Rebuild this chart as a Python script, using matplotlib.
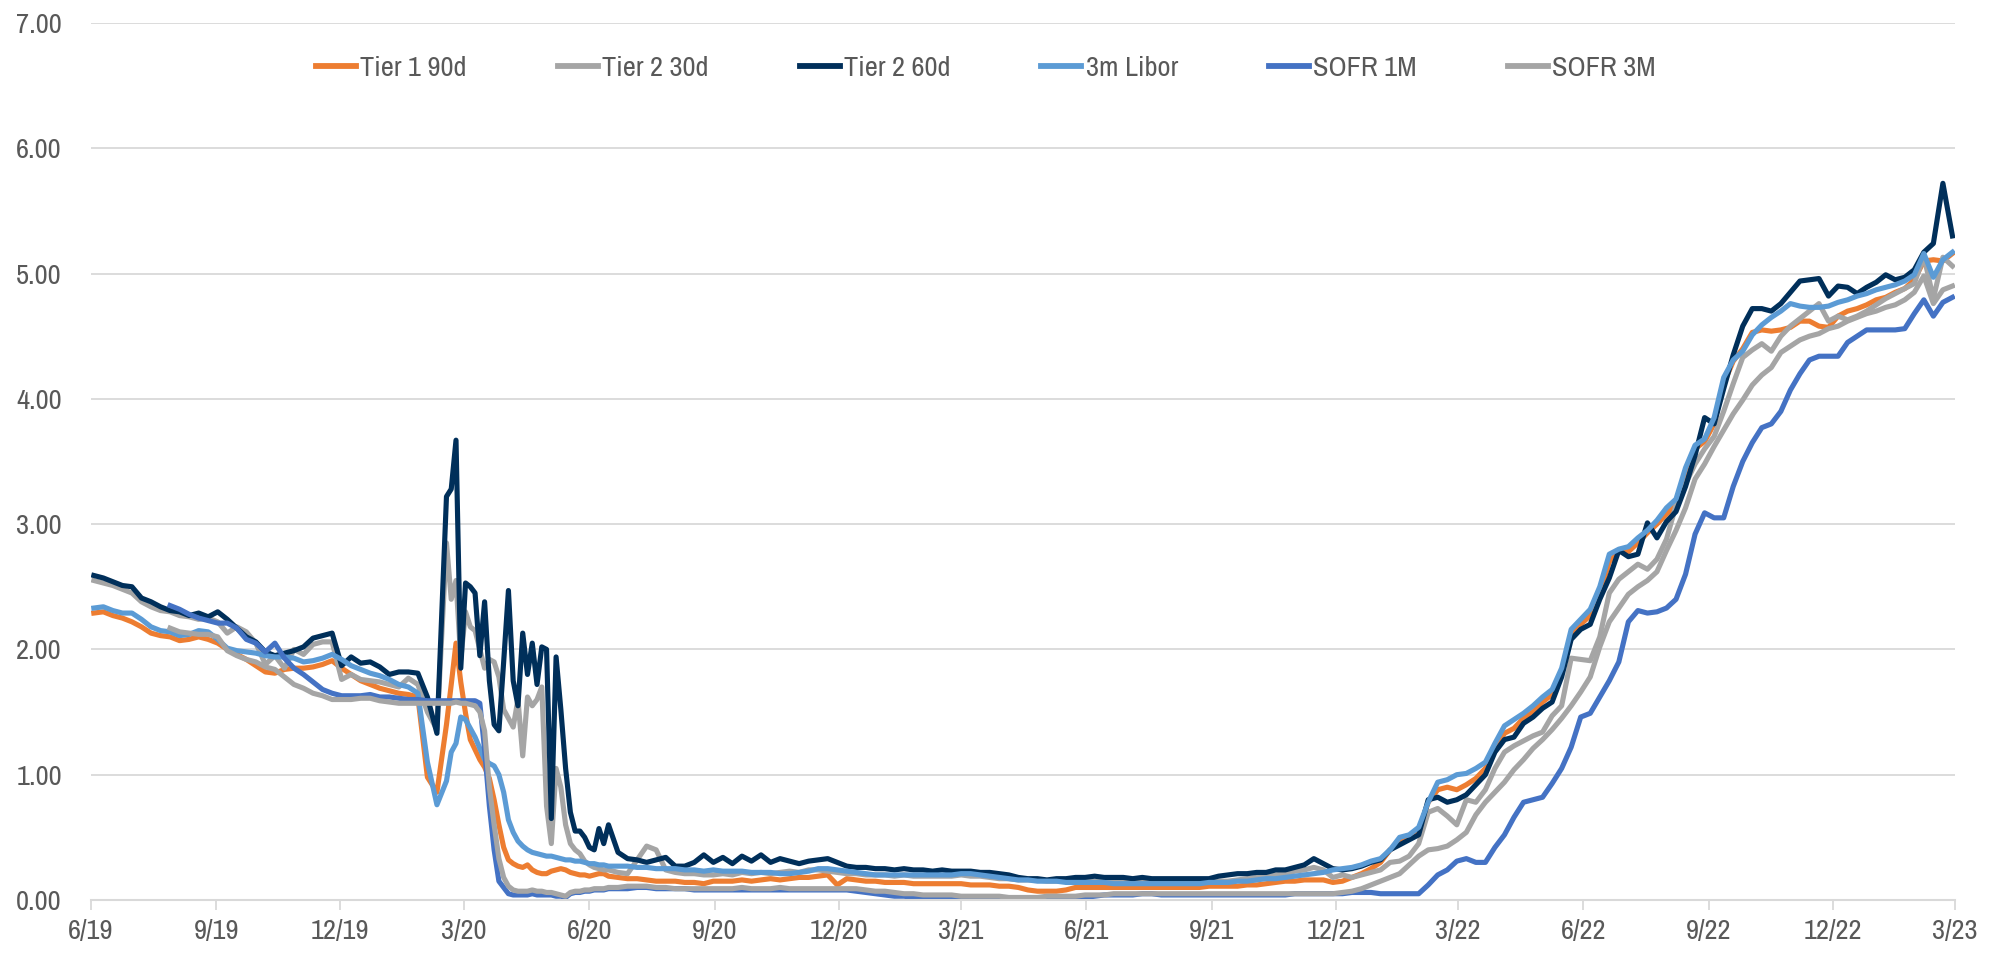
import numpy as np
import pandas as pd
import matplotlib
matplotlib.use('Agg')
import matplotlib.pyplot as plt
import matplotlib.dates as mdates
from matplotlib import font_manager
from datetime import datetime

# weekly closes, with twice-weekly points through the spring 2020 stress period
dates = (pd.date_range('2019-06-03', periods=37, freq='7D')
         .append(pd.date_range('2020-02-17', periods=35, freq='84h'))
         .append(pd.date_range('2020-06-22', periods=141, freq='7D')))

nan = np.nan

tier1_90d = [
    2.29, 2.30, 2.27, 2.25, 2.22, 2.18, 2.13, 2.11, 2.10, 2.07, 2.08, 2.10, 2.08, 2.05, 2.00, 1.96, 1.92, 1.87, 1.82, 1.81,
    1.84, 1.85, 1.85, 1.86, 1.88, 1.91, 1.85, 1.80, 1.75, 1.72, 1.69, 1.67, 1.65, 1.64, 1.62, 0.98, 0.86,
    1.40, 1.72, 2.05, 1.74, 1.49, 1.28, 1.20, 1.12, 1.06, 0.97, 0.80, 0.60, 0.42, 0.32, 0.29, 0.27, 0.26, 0.28, 0.24, 0.22,
    0.21, 0.21, 0.23, 0.24, 0.25, 0.24, 0.22, 0.21, 0.20, 0.20, 0.19, 0.20, 0.21, 0.21, 0.19,
    0.18, 0.17, 0.17, 0.16, 0.15, 0.15, 0.15, 0.14, 0.14, 0.13,
    0.15, 0.15, 0.15, 0.16, 0.15, 0.16, 0.17, 0.16, 0.17, 0.18,
    0.18, 0.19, 0.20, 0.12, 0.17, 0.16, 0.15, 0.15, 0.14, 0.14,
    0.14, 0.13, 0.13, 0.13, 0.13, 0.13, 0.13, 0.12, 0.12, 0.12,
    0.11, 0.11, 0.10, 0.08, 0.07, 0.07, 0.07, 0.08, 0.10, 0.10,
    0.10, 0.10, 0.10, 0.10, 0.10, 0.10, 0.10, 0.10, 0.10, 0.10,
    0.10, 0.10, 0.11, 0.11, 0.11, 0.11, 0.12, 0.12, 0.13, 0.14,
    0.15, 0.15, 0.16, 0.16, 0.16, 0.14, 0.15, 0.18, 0.21, 0.25,
    0.30, 0.40, 0.47, 0.50, 0.55, 0.78, 0.88, 0.90, 0.88, 0.92,
    0.97, 1.05, 1.21, 1.33, 1.37, 1.45, 1.50, 1.58, 1.64, 1.82,
    2.12, 2.20, 2.27, 2.45, 2.70, 2.78, 2.78, 2.85, 2.93, 3.00,
    3.08, 3.15, 3.40, 3.60, 3.66, 3.80, 4.12, 4.30, 4.40, 4.53,
    4.55, 4.54, 4.55, 4.57, 4.62, 4.62, 4.58, 4.57, 4.66, 4.70,
    4.72, 4.75, 4.79, 4.81, 4.85, 4.88, 4.95, 5.10, 5.11, 5.10,
    5.16,
]

tier2_30d = [
    2.55, 2.53, 2.51, 2.48, 2.45, 2.38, 2.34, 2.31, 2.30, 2.27, 2.26, 2.24, 2.25, 2.22, 2.13, 2.18, 2.14, 2.05, 1.88, 1.95,
    1.85, 2.00, 1.96, 2.04, 2.06, 2.06, 1.76, 1.80, 1.76, 1.75, 1.74, 1.72, 1.70, 1.77, 1.72, 1.50, 1.36,
    2.85, 2.40, 2.55, 1.92, 2.30, 2.18, 2.15, 2.00, 1.85, 1.92, 1.90, 1.78, 1.52, 1.45, 1.38, 1.60, 1.15, 1.62, 1.55, 1.60,
    1.70, 0.75, 0.45, 1.05, 0.90, 0.60, 0.45, 0.40, 0.37, 0.31, 0.28, 0.26, 0.25, 0.24, 0.24,
    0.22, 0.21, 0.32, 0.43, 0.40, 0.24, 0.22, 0.21, 0.21, 0.20,
    0.20, 0.21, 0.20, 0.22, 0.21, 0.22, 0.21, 0.22, 0.23, 0.22,
    0.24, 0.24, 0.23, 0.22, 0.21, 0.21, 0.20, 0.20, 0.20, 0.19,
    0.20, 0.19, 0.19, 0.19, 0.19, 0.19, 0.20, 0.19, 0.19, 0.18,
    0.17, 0.17, 0.16, 0.16, 0.16, 0.15, 0.15, 0.15, 0.15, 0.15,
    0.15, 0.15, 0.14, 0.14, 0.14, 0.14, 0.14, 0.14, 0.14, 0.14,
    0.14, 0.14, 0.14, 0.15, 0.15, 0.16, 0.17, 0.18, 0.19, 0.20,
    0.21, 0.23, 0.24, 0.26, 0.24, 0.18, 0.20, 0.18, 0.20, 0.22,
    0.24, 0.30, 0.31, 0.35, 0.45, 0.70, 0.73, 0.67, 0.60, 0.80,
    0.78, 0.88, 1.05, 1.18, 1.23, 1.27, 1.31, 1.34, 1.47, 1.55,
    1.93, 1.92, 1.91, 2.10, 2.45, 2.56, 2.62, 2.68, 2.64, 2.72,
    2.88, 3.15, 3.32, 3.48, 3.60, 3.70, 3.90, 4.12, 4.33, 4.39,
    4.44, 4.38, 4.50, 4.58, 4.64, 4.70, 4.76, 4.62, 4.66, 4.63,
    4.66, 4.70, 4.75, 4.80, 4.84, 4.88, 4.92, 5.14, 4.80, 5.13,
    5.06,
]

tier2_60d = [
    2.59, 2.57, 2.54, 2.51, 2.50, 2.41, 2.38, 2.34, 2.31, 2.30, 2.27, 2.29, 2.26, 2.30, 2.24, 2.17, 2.10, 2.06, 1.98, 1.95,
    1.97, 1.99, 2.02, 2.09, 2.11, 2.13, 1.87, 1.94, 1.89, 1.90, 1.86, 1.80, 1.82, 1.82, 1.81, 1.62, 1.33,
    3.22, 3.28, 3.67, 1.85, 2.53, 2.50, 2.45, 1.95, 2.38, 1.75, 1.40, 1.35, 1.90, 2.47, 1.75, 1.55, 2.13, 1.80, 2.05, 1.72,
    2.02, 2.00, 0.65, 1.94, 1.52, 1.05, 0.70, 0.55, 0.55, 0.50, 0.42, 0.40, 0.57, 0.45, 0.60,
    0.38, 0.33, 0.32, 0.30, 0.32, 0.34, 0.27, 0.27, 0.30, 0.36,
    0.30, 0.34, 0.29, 0.35, 0.31, 0.36, 0.30, 0.33, 0.31, 0.29,
    0.31, 0.32, 0.33, 0.30, 0.27, 0.26, 0.26, 0.25, 0.25, 0.24,
    0.25, 0.24, 0.24, 0.23, 0.24, 0.23, 0.23, 0.23, 0.22, 0.22,
    0.21, 0.20, 0.18, 0.17, 0.17, 0.16, 0.17, 0.17, 0.18, 0.18,
    0.19, 0.18, 0.18, 0.18, 0.17, 0.18, 0.17, 0.17, 0.17, 0.17,
    0.17, 0.17, 0.17, 0.19, 0.20, 0.21, 0.21, 0.22, 0.22, 0.24,
    0.24, 0.26, 0.28, 0.33, 0.29, 0.25, 0.24, 0.25, 0.27, 0.30,
    0.32, 0.40, 0.44, 0.48, 0.52, 0.80, 0.82, 0.78, 0.80, 0.84,
    0.92, 1.00, 1.18, 1.28, 1.30, 1.41, 1.46, 1.53, 1.58, 1.78,
    2.08, 2.16, 2.20, 2.40, 2.57, 2.79, 2.74, 2.76, 3.01, 2.89,
    3.02, 3.10, 3.30, 3.55, 3.85, 3.80, 4.08, 4.35, 4.58, 4.72,
    4.72, 4.70, 4.76, 4.85, 4.94, 4.95, 4.96, 4.82, 4.90, 4.89,
    4.84, 4.89, 4.93, 4.99, 4.95, 4.97, 5.03, 5.17, 5.24, 5.72,
    5.30,
]

libor_3m = [
    2.33, 2.34, 2.31, 2.29, 2.29, 2.24, 2.18, 2.15, 2.14, 2.11, 2.12, 2.15, 2.14, 2.08, 2.01, 1.99, 1.98, 1.97, 1.95, 1.94,
    1.94, 1.93, 1.90, 1.91, 1.93, 1.96, 1.92, 1.87, 1.84, 1.81, 1.79, 1.76, 1.72, 1.70, 1.65, 1.10, 0.76,
    0.95, 1.18, 1.25, 1.46, 1.44, 1.37, 1.30, 1.21, 1.12, 1.09, 1.07, 1.00, 0.86, 0.64, 0.54, 0.47, 0.43, 0.40, 0.38, 0.37,
    0.36, 0.35, 0.35, 0.34, 0.33, 0.32, 0.32, 0.31, 0.31, 0.30, 0.29, 0.29, 0.28, 0.28, 0.27,
    0.27, 0.27, 0.26, 0.26, 0.25, 0.25, 0.25, 0.24, 0.24, 0.23,
    0.24, 0.23, 0.23, 0.23, 0.22, 0.22, 0.22, 0.21, 0.21, 0.22,
    0.23, 0.25, 0.25, 0.24, 0.23, 0.22, 0.21, 0.20, 0.20, 0.20,
    0.20, 0.20, 0.20, 0.20, 0.20, 0.20, 0.21, 0.21, 0.20, 0.19,
    0.18, 0.17, 0.16, 0.16, 0.15, 0.15, 0.15, 0.14, 0.14, 0.14,
    0.14, 0.14, 0.13, 0.13, 0.13, 0.13, 0.13, 0.13, 0.13, 0.13,
    0.13, 0.13, 0.14, 0.14, 0.14, 0.15, 0.15, 0.16, 0.17, 0.17,
    0.18, 0.19, 0.20, 0.21, 0.22, 0.24, 0.25, 0.26, 0.28, 0.31,
    0.33, 0.40, 0.50, 0.52, 0.58, 0.78, 0.94, 0.96, 1.00, 1.01,
    1.05, 1.10, 1.25, 1.39, 1.44, 1.49, 1.55, 1.62, 1.68, 1.85,
    2.16, 2.24, 2.32, 2.50, 2.76, 2.80, 2.82, 2.89, 2.95, 3.03,
    3.13, 3.20, 3.45, 3.63, 3.68, 3.85, 4.17, 4.31, 4.38, 4.51,
    4.59, 4.65, 4.70, 4.76, 4.74, 4.73, 4.73, 4.74, 4.77, 4.79,
    4.82, 4.84, 4.87, 4.89, 4.91, 4.94, 4.99, 5.16, 4.97, 5.11,
    5.17,
]

sofr_1m = [
    nan, nan, nan, nan, nan, nan, nan, nan, 2.35, 2.32, 2.28, 2.25, 2.23, 2.21, 2.21, 2.17, 2.08, 2.05, 1.98, 2.05,
    1.93, 1.85, 1.80, 1.74, 1.68, 1.65, 1.63, 1.63, 1.63, 1.64, 1.62, 1.62, 1.61, 1.60, 1.60, 1.59, 1.59,
    1.59, 1.59, 1.59, 1.59, 1.59, 1.59, 1.59, 1.57, 1.20, 0.75, 0.40, 0.15, 0.10, 0.05, 0.04, 0.04, 0.04, 0.04, 0.05, 0.04,
    0.04, 0.04, 0.04, 0.03, 0.03, 0.02, 0.05, 0.06, 0.06, 0.07, 0.07, 0.08, 0.08, 0.08, 0.09,
    0.09, 0.09, 0.10, 0.10, 0.09, 0.09, 0.09, 0.09, 0.08, 0.08,
    0.08, 0.08, 0.08, 0.08, 0.08, 0.08, 0.08, 0.08, 0.08, 0.08,
    0.08, 0.08, 0.08, 0.08, 0.08, 0.07, 0.06, 0.05, 0.04, 0.03,
    0.03, 0.02, 0.02, 0.02, 0.01, 0.01, 0.01, 0.01, 0.01, 0.00,
    0.00, 0.00, 0.00, 0.00, 0.00, 0.00, 0.01, 0.01, 0.01, 0.02,
    0.03, 0.04, 0.04, 0.04, 0.04, 0.05, 0.05, 0.04, 0.04, 0.04,
    0.04, 0.04, 0.04, 0.04, 0.04, 0.04, 0.04, 0.04, 0.04, 0.04,
    0.04, 0.05, 0.05, 0.05, 0.05, 0.05, 0.05, 0.06, 0.06, 0.06,
    0.05, 0.05, 0.05, 0.05, 0.05, 0.12, 0.20, 0.24, 0.31, 0.33,
    0.30, 0.30, 0.42, 0.52, 0.66, 0.78, 0.80, 0.82, 0.93, 1.05,
    1.22, 1.46, 1.49, 1.62, 1.75, 1.90, 2.22, 2.31, 2.29, 2.30,
    2.33, 2.40, 2.60, 2.92, 3.09, 3.05, 3.05, 3.30, 3.50, 3.65,
    3.77, 3.80, 3.90, 4.07, 4.20, 4.31, 4.34, 4.34, 4.34, 4.45,
    4.50, 4.55, 4.55, 4.55, 4.55, 4.56, 4.68, 4.79, 4.66, 4.77,
    4.81,
]

sofr_3m = [
    nan, nan, nan, nan, nan, nan, nan, nan, 2.17, 2.14, 2.13, 2.12, 2.12, 2.10, 1.99, 1.95, 1.92, 1.90, 1.86, 1.84,
    1.78, 1.72, 1.69, 1.65, 1.63, 1.60, 1.60, 1.60, 1.61, 1.61, 1.59, 1.58, 1.57, 1.57, 1.57, 1.57, 1.57,
    1.57, 1.57, 1.58, 1.57, 1.57, 1.56, 1.55, 1.50, 1.35, 0.90, 0.60, 0.33, 0.18, 0.11, 0.08, 0.07, 0.07, 0.07, 0.08, 0.07,
    0.07, 0.06, 0.06, 0.05, 0.04, 0.03, 0.06, 0.07, 0.07, 0.08, 0.08, 0.09, 0.09, 0.09, 0.10,
    0.10, 0.11, 0.11, 0.11, 0.10, 0.10, 0.09, 0.09, 0.09, 0.09,
    0.09, 0.09, 0.09, 0.10, 0.09, 0.09, 0.09, 0.10, 0.09, 0.09,
    0.09, 0.09, 0.09, 0.09, 0.09, 0.09, 0.08, 0.07, 0.07, 0.06,
    0.05, 0.05, 0.04, 0.04, 0.04, 0.04, 0.03, 0.03, 0.03, 0.03,
    0.03, 0.02, 0.02, 0.02, 0.02, 0.03, 0.03, 0.03, 0.03, 0.04,
    0.04, 0.04, 0.05, 0.05, 0.05, 0.05, 0.05, 0.05, 0.05, 0.05,
    0.05, 0.05, 0.05, 0.05, 0.05, 0.05, 0.05, 0.05, 0.05, 0.05,
    0.05, 0.05, 0.05, 0.05, 0.05, 0.05, 0.06, 0.07, 0.09, 0.12,
    0.15, 0.18, 0.21, 0.28, 0.35, 0.40, 0.41, 0.43, 0.48, 0.54,
    0.68, 0.78, 0.86, 0.94, 1.04, 1.12, 1.21, 1.28, 1.36, 1.45,
    1.55, 1.66, 1.78, 2.02, 2.22, 2.33, 2.44, 2.50, 2.55, 2.62,
    2.79, 2.95, 3.13, 3.36, 3.48, 3.62, 3.75, 3.88, 3.99, 4.11,
    4.19, 4.25, 4.37, 4.42, 4.47, 4.50, 4.52, 4.56, 4.58, 4.62,
    4.65, 4.68, 4.70, 4.73, 4.75, 4.79, 4.85, 4.98, 4.76, 4.87,
    4.90,
]

labels = ['Tier 1 90d', 'Tier 2 30d', 'Tier 2 60d', '3m Libor', 'SOFR 1M', 'SOFR 3M']
colors = ['#ED7D31', '#A5A5A5', '#002F5A', '#5B9BD5', '#4472C4', '#A5A5A5']
series = [tier1_90d, tier2_30d, tier2_60d, libor_3m, sofr_1m, sofr_3m]

# a narrow sans if one is installed, otherwise Liberation Sans a bit smaller
names = sorted({f.name for f in font_manager.fontManager.ttflist})
narrow = [n for n in names if ('Narrow' in n or 'Condensed' in n) and 'Mono' not in n]
if narrow:
    family, fs = narrow[0], 20.5
else:
    family, fs = 'Liberation Sans', 19
plt.rcParams['font.family'] = [family, 'DejaVu Sans']

text_col = '#595959'
grid_col = '#D9D9D9'

fig = plt.figure(figsize=(20.02, 9.56), dpi=100)
ax = fig.add_axes([0.0455, 0.0586, 0.9311, 0.9174])

for vals, lab, col in zip(series, labels, colors):
    ax.plot(dates, vals, color=col, lw=3.7, label=lab, solid_joinstyle='round')

ax.set_ylim(0, 7)
ax.set_yticks(range(8))
ax.yaxis.set_major_formatter(plt.FuncFormatter(lambda v, p: f'{v:.2f}'))
ax.set_xlim(datetime(2019, 6, 1), datetime(2023, 3, 1))
ax.xaxis.set_major_locator(mdates.MonthLocator(bymonth=[3, 6, 9, 12]))
ax.xaxis.set_major_formatter(plt.FuncFormatter(
    lambda v, p: '{}/{}'.format(mdates.num2date(v).month, mdates.num2date(v).strftime('%y'))))

ax.yaxis.grid(True, color=grid_col, lw=1.3)
ax.set_axisbelow(True)
for s in ['top', 'right', 'left']:
    ax.spines[s].set_visible(False)
ax.spines['bottom'].set_color(grid_col)
ax.spines['bottom'].set_linewidth(1.5)

ax.tick_params(axis='y', length=0, pad=21, labelsize=fs, labelcolor=text_col)
ax.tick_params(axis='x', direction='out', length=7.5, width=1.3, color=grid_col,
               pad=6, labelsize=fs, labelcolor=text_col)

leg = ax.legend(loc='center', bbox_to_anchor=(0.480, 0.948), ncol=6, frameon=False,
                handlelength=1.4, handletextpad=0.15, columnspacing=3.2, fontsize=fs)
for t in leg.get_texts():
    t.set_color(text_col)
for h in leg.get_lines():
    h.set_linewidth(4.2)

fig.savefig('out.png', dpi=100)
